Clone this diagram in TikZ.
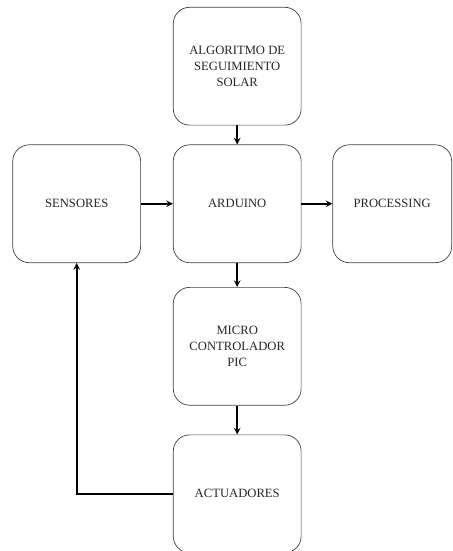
\documentclass[tikz,border=0pt]{standalone}
\usepackage{fontspec}
\setmainfont{Liberation Serif}
\usetikzlibrary{positioning,arrows}

\begin{document}
\begin{tikzpicture}[>=stealth,
  bloque/.style={draw=black!75,line width=0.6pt,rounded corners=14pt,
    minimum width=3.84cm,minimum height=3.54cm,align=center,
    font=\fontsize{10.8}{13.8}\selectfont,text=black!85},
  flecha/.style={->,line width=1.5pt}]
\useasboundingbox (0,0) rectangle (13.59,-16.55);
\node (ard) [bloque] at (7.125,-6.12) {ARDUINO};
\node (alg) [bloque,above=0.57cm of ard] {ALGORITMO DE\\SEGUIMIENTO\\SOLAR};
\node (sen) [bloque,left=0.96cm of ard] {SENSORES};
\node (proc) [bloque,right=0.93cm of ard,minimum width=3.57cm] {PROCESSING};
\node (pic) [bloque,below=0.72cm of ard] {MICRO\\CONTROLADOR\\PIC};
\node (act) [bloque,below=0.87cm of pic] {ACTUADORES};

\draw[flecha] (alg) -- (ard);
\draw[flecha] (sen) -- (ard);
\draw[flecha] (ard) -- (proc);
\draw[flecha] (ard) -- (pic);
\draw[flecha] (pic) -- (act);
\draw[flecha] (act.west) -| (sen.south);
\end{tikzpicture}
\end{document}
